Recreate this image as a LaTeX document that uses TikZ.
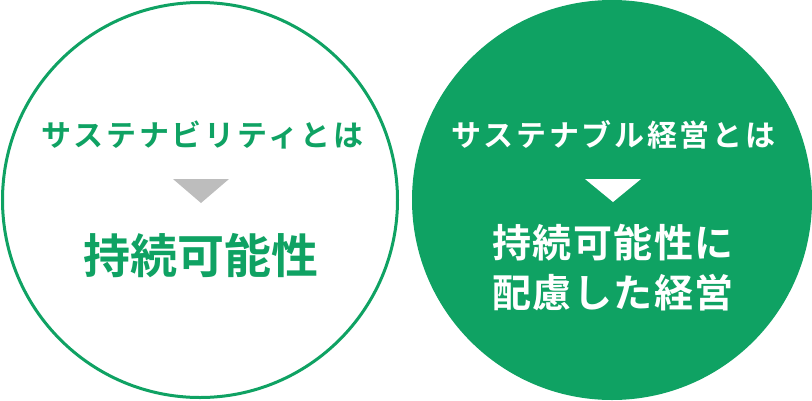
\documentclass[tikz,border=0pt]{standalone}
\usepackage{fontspec}
\newfontfamily\jpbold{Noto Sans CJK JP Bold}
\newfontfamily\jpboldsp[LetterSpace=9]{Noto Sans CJK JP Bold}
\newfontfamily\jpboldbr[LetterSpace=4]{Noto Sans CJK JP Bold}
\definecolor{sgreen}{HTML}{0FA263}
\definecolor{tgray}{HTML}{BDBDBD}
\begin{document}
\begin{tikzpicture}[x=1pt,y=-1pt,
  small/.style={font=\jpboldsp\fontsize{30}{30}\selectfont, inner sep=0pt, anchor=center},
  bigl/.style={font=\jpbold\fontsize{47}{47}\selectfont, inner sep=0pt, anchor=center},
  bigr/.style={font=\jpboldbr\fontsize{39}{50}\selectfont, inner sep=0pt, anchor=center, align=center},
  tri/.style={draw=none}]
\useasboundingbox (0,0) rectangle (812,400);
\draw[sgreen, line width=3pt] (200,200) circle (197.5);
\fill[sgreen] (612,200) circle (200);
\node[small, text=sgreen] (l1) at (202.5,135) {サステナビリティとは};
\fill[tgray] (173,179) -- (229,179) -- (201,203) -- cycle;
\node[bigl, text=sgreen] (l2) at (201,256) {持続可能性};
\node[small, text=white] (r1) at (613.5,135) {サステナブル経営とは};
\fill[white] (585,179) -- (641,179) -- (613,202) -- cycle;
\node[bigr, text=white] (r2) at (613,268) {持続可能性に\\配慮した経営};
\end{tikzpicture}
\end{document}
